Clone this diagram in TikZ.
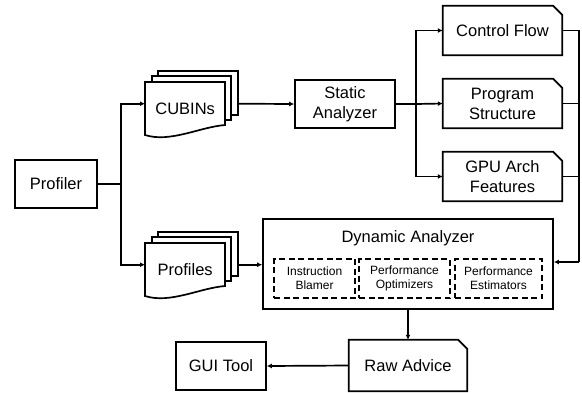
\documentclass[tikz,border=0pt]{standalone}
\usepackage{fontspec}
\setmainfont{Liberation Sans}
\usetikzlibrary{arrows.meta}

\tikzset{
  txt/.style={inner sep=0pt, align=center, font=\fontsize{16.5bp}{20bp}\selectfont},
  plainbox/.style={txt, draw, line width=1.7bp},
  subbox/.style={draw, line width=1.7bp, dash pattern=on 6bp off 3.5bp, inner sep=0pt,
    align=center, font=\fontsize{12bp}{14bp}\selectfont, minimum height=39bp},
  wire/.style={line width=1.7bp},
  arr/.style={line width=1.7bp, -{Latex[length=5bp,width=5bp]}},
}

% box with the top right corner cut off
\newcommand{\cutbox}[1]{%
  \draw[wire] (#1.south west) -- (#1.north west) -- ([shift={(-9,0)}]#1.north east)
    -- ([shift={(0,9)}]#1.north east) -- (#1.south east) -- cycle;}

% stack of three pages, name / top left corner of the front page / text
\newcommand{\docstack}[3]{%
  \coordinate (#1-nw) at #2;
  \draw[wire, fill=white] ([shift={(13,-11)}]#1-nw) rectangle ([shift={(93,33)}]#1-nw);
  \draw[wire, fill=white] ([shift={(7,-6)}]#1-nw) rectangle ([shift={(86,38)}]#1-nw);
  \draw[wire, fill=white] (#1-nw) -- ([shift={(0,53)}]#1-nw)
    .. controls ([shift={(25,61)}]#1-nw) and ([shift={(55,45)}]#1-nw) .. ([shift={(80,43)}]#1-nw)
    -- ([shift={(80,0)}]#1-nw) -- cycle;
  \node[txt, minimum width=80bp, minimum height=53bp, anchor=north west] (#1) at (#1-nw) {#3};}

\begin{document}
\begin{tikzpicture}[x=1bp, y=-1bp]
  \useasboundingbox (0,0) rectangle (582,392);

  % Inputs
  \node[plainbox, minimum width=82bp, minimum height=48bp] (profiler) at (56,184) {Profiler};
  \docstack{cubins}{(145,82)}{CUBINs}
  \docstack{profiles}{(145,243)}{Profiles}

  % Static side
  \node[plainbox, minimum width=100bp, minimum height=48bp] (static) at (345,104) {Static\\Analyzer};
  \node[txt, minimum width=119bp, minimum height=49bp] (cflow) at (502.5,30.5) {Control Flow};
  \node[txt, minimum width=119bp, minimum height=49bp] (pstruct) at (502.5,103.5) {Program\\Structure};
  \node[txt, minimum width=119bp, minimum height=49bp] (gpuarch) at (502.5,176.5) {GPU Arch\\Features};
  \cutbox{cflow}
  \cutbox{pstruct}
  \cutbox{gpuarch}

  % Dynamic side
  \node[plainbox, minimum width=290bp, minimum height=90bp] (dyn) at (408,264) {};
  \node[txt] (dyntitle) at (408,238) {Dynamic Analyzer};
  \node[subbox, minimum width=81bp] (blamer) at (314.5,278.5) {Instruction\\Blamer};
  \node[subbox, minimum width=91bp] (optim) at (404.5,278.5) {Performance\\Optimizers};
  \node[subbox, minimum width=87bp] (estim) at (498.5,278.5) {Performance\\Estimators};

  % Outputs
  \node[txt, minimum width=118bp, minimum height=51bp] (advice) at (408,365.5) {Raw Advice};
  \cutbox{advice}
  \node[plainbox, minimum width=90bp, minimum height=48bp] (gui) at (221,366) {GUI Tool};

  % Profiler to both stacks
  \draw[wire] (profiler.east) -- ++(23,0) coordinate (split);
  \draw[arr] (split) |- ([shift={(0,-5)}]cubins.west);
  \draw[arr] (split) |- ([shift={(0,-5)}]profiles.west);

  % Static analysis
  \draw[arr] ([shift={(13,-5)}]cubins.east) -- (static.west);
  \draw[wire] (static.east) -- ++(20,0) coordinate (fork);
  \draw[arr] (fork) |- (cflow.west);
  \draw[arr] (fork) -- (pstruct.west);
  \draw[arr] (fork) |- (gpuarch.west);

  % Results into the dynamic analyzer
  \coordinate (back) at (579,262);
  \draw[wire] (cflow.east) -- (cflow.east -| back) -- (back);
  \draw[wire] (pstruct.east) -- (pstruct.east -| back);
  \draw[wire] (gpuarch.east) -- (gpuarch.east -| back);
  \draw[arr] (back) -- (back -| dyn.east);
  \draw[arr] ([shift={(13,-5)}]profiles.east) coordinate (pout) -- (pout -| dyn.west);

  % Advice
  \draw[arr] (dyn.south) -- (advice.north);
  \draw[arr] (advice.west) -- (gui.east);
\end{tikzpicture}
\end{document}
